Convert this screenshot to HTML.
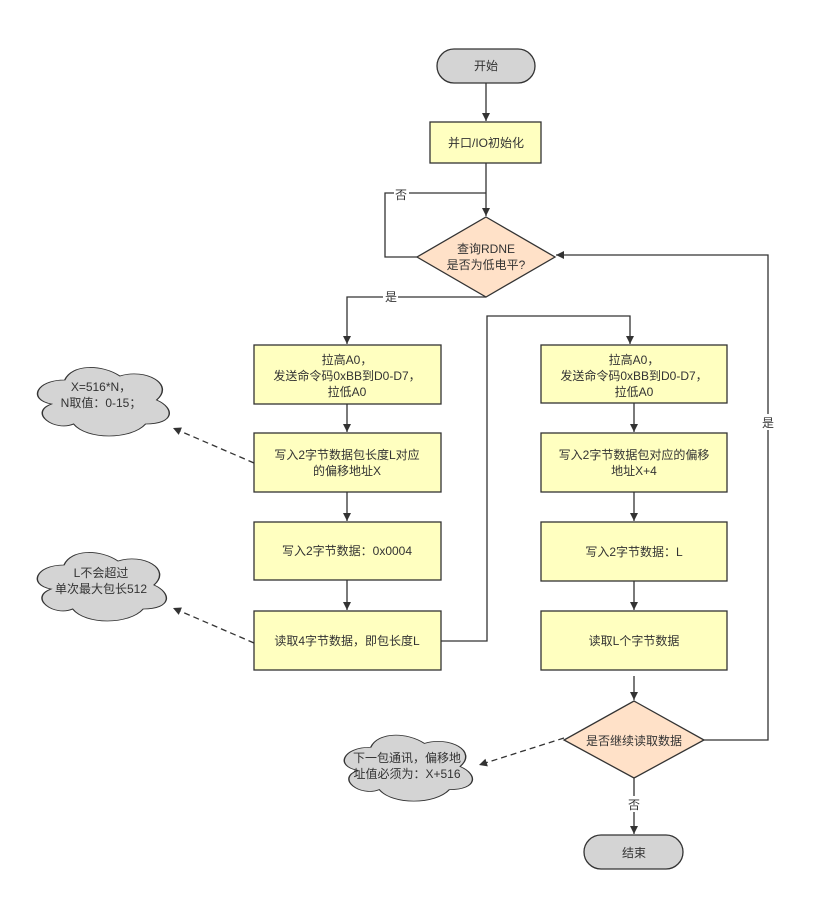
<!DOCTYPE html>
<html><head><meta charset="utf-8"><style>
html,body{margin:0;padding:0;background:#fff;}
svg{display:block;}
text{font-family:"Liberation Sans","Noto Sans CJK SC",sans-serif;font-size:12px;fill:#333;text-anchor:middle;}
</style></head><body>
<svg width="831" height="897" viewBox="0 0 831 897" xmlns="http://www.w3.org/2000/svg">
<defs>
<marker id="a" markerWidth="10" markerHeight="10" refX="9" refY="5" orient="auto" markerUnits="userSpaceOnUse"><path d="M1,1 L9,5 L1,9 Z" fill="#333"/></marker>
<path id="cl" d="M25 25 C5 25 0 50 16 55 C0 66 18 90 31 80 C40 100 70 100 80 80 C100 80 100 60 87.5 50 C100 30 80 10 62.5 20 C50 5 30 5 25 25 Z"/>
</defs>
<g fill="none" stroke="#333" stroke-width="1.3">
<!-- main -->
<path d="M486 83 V121" marker-end="url(#a)"/>
<path d="M486 163 V216" marker-end="url(#a)"/>
<path d="M417 257 H385 V193 H486"/>
<path d="M486 297 H347 V344" marker-end="url(#a)"/>
<path d="M347 404 V432" marker-end="url(#a)"/>
<path d="M347 492 V521" marker-end="url(#a)"/>
<path d="M347 580 V610" marker-end="url(#a)"/>
<path d="M441 641 H487 V316 H630 V344" marker-end="url(#a)"/>
<path d="M634 403 V432" marker-end="url(#a)"/>
<path d="M634 492 V521" marker-end="url(#a)"/>
<path d="M634 581 V610" marker-end="url(#a)"/>
<path d="M634 676 V700" marker-end="url(#a)"/>
<path d="M704 740 H768 V255 H556" marker-end="url(#a)"/>
<path d="M634 778 V834" marker-end="url(#a)"/>
<path d="M254 463 L173 428" stroke-dasharray="6,4" marker-end="url(#a)"/>
<path d="M254 643 L173 608" stroke-dasharray="6,4" marker-end="url(#a)"/>
<path d="M564 738 L479 765" stroke-dasharray="6,4" marker-end="url(#a)"/>
</g>
<!-- shapes -->
<g stroke="#333" stroke-width="1.3">
<rect x="437" y="49" width="98" height="34" rx="17" fill="#d4d4d4"/>
<rect x="430" y="122" width="111" height="41" fill="#ffffc0"/>
<path d="M486 217 L555 257 L486 297 L417 257 Z" fill="#ffe1c8"/>
<rect x="254" y="345" width="187" height="59" fill="#ffffc0"/>
<rect x="254" y="433" width="187" height="59" fill="#ffffc0"/>
<rect x="254" y="522" width="187" height="58" fill="#ffffc0"/>
<rect x="254" y="611" width="187" height="59" fill="#ffffc0"/>
<rect x="541" y="345" width="186" height="58" fill="#ffffc0"/>
<rect x="541" y="433" width="186" height="59" fill="#ffffc0"/>
<rect x="541" y="522" width="186" height="59" fill="#ffffc0"/>
<rect x="541" y="611" width="186" height="59" fill="#ffffc0"/>
<path d="M634 701 L704 740 L634 778 L564 740 Z" fill="#ffe1c8"/>
<rect x="584" y="835" width="99" height="34" rx="17" fill="#d4d4d4"/>
</g>
<g fill="#d4d4d4" stroke="#333">
<use href="#cl" transform="translate(28 360) scale(1.47 0.8)" stroke-width="1"/>
<use href="#cl" transform="translate(28 545) scale(1.44 0.8)" stroke-width="1"/>
<use href="#cl" transform="translate(335 728) scale(1.43 0.77)" stroke-width="1"/>
</g>
<!-- labels -->
<rect x="394" y="186" width="15" height="15" fill="#fff"/>
<rect x="383" y="289" width="15" height="15" fill="#fff"/>
<rect x="761" y="414" width="15" height="16" fill="#fff"/>
<rect x="627" y="796" width="15" height="16" fill="#fff"/>
<text x="401" y="199">否</text>
<text x="391" y="301">是</text>
<text x="768" y="427">是</text>
<text x="634" y="809">否</text>
<text x="486" y="70">开始</text>
<text x="486" y="147">并口/IO初始化</text>
<text x="486" y="253">查询RDNE</text>
<text x="486" y="269">是否为低电平?</text>
<text x="347" y="364">拉高A0，</text>
<text x="347" y="380">发送命令码0xBB到D0-D7，</text>
<text x="347" y="396">拉低A0</text>
<text x="347" y="459">写入2字节数据包长度L对应</text>
<text x="347" y="475">的偏移地址X</text>
<text x="347" y="555">写入2字节数据：0x0004</text>
<text x="347" y="645">读取4字节数据，即包长度L</text>
<text x="634" y="364">拉高A0，</text>
<text x="634" y="380">发送命令码0xBB到D0-D7，</text>
<text x="634" y="396">拉低A0</text>
<text x="634" y="459">写入2字节数据包对应的偏移</text>
<text x="634" y="475">地址X+4</text>
<text x="634" y="556">写入2字节数据：L</text>
<text x="634" y="645">读取L个字节数据</text>
<text x="634" y="745">是否继续读取数据</text>
<text x="634" y="857">结束</text>
<text x="101" y="391">X=516*N，</text>
<text x="101" y="407">N取值：0-15；</text>
<text x="101" y="577">L不会超过</text>
<text x="101" y="593">单次最大包长512</text>
<text x="407" y="762">下一包通讯，偏移地</text>
<text x="407" y="778">址值必须为：X+516</text>
</svg>
</body></html>
